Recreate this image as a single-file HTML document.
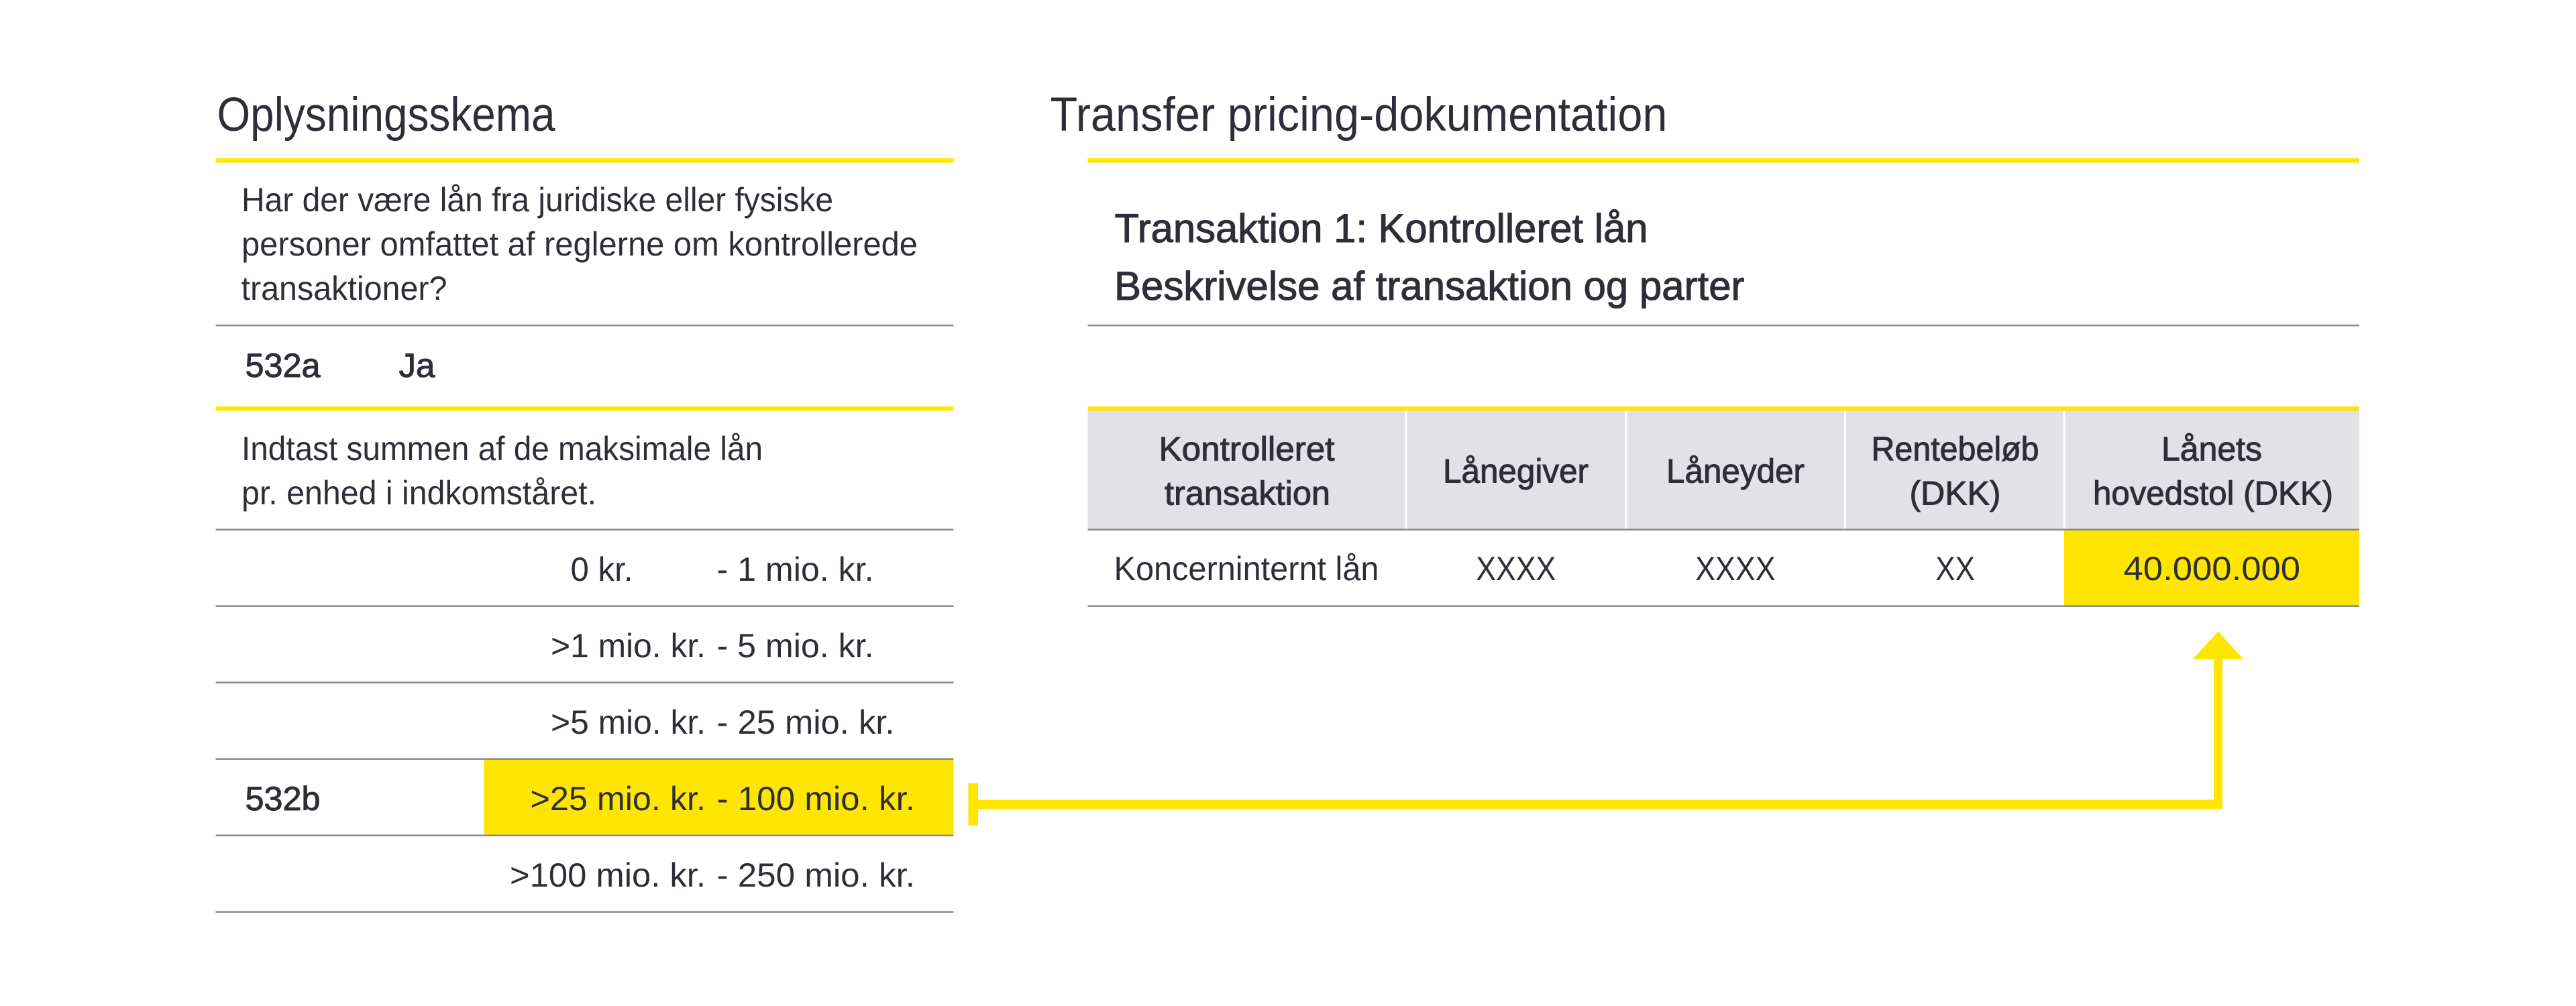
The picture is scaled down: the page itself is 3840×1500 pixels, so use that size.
<!DOCTYPE html>
<html lang="da">
<head>
<meta charset="utf-8">
<title>Oplysningsskema og Transfer pricing-dokumentation</title>
<style>
html,body{margin:0;padding:0;background:#fff}
svg{display:block}
text{font-family:"Liberation Sans",sans-serif;fill:#2e2e38}
.h{font-size:71px}
.b{font-size:50px}
.m{font-size:50px;stroke:#2e2e38;stroke-width:1px}
.t{font-size:60px;stroke:#2e2e38;stroke-width:1.1px}
</style>
</head>
<body>
<svg width="3840" height="1500" viewBox="0 0 3840 1500" xmlns="http://www.w3.org/2000/svg">
<rect width="3840" height="1500" fill="#fff"/>

<!-- fills -->
<rect x="721.5" y="1131" width="700" height="114" fill="#ffe600"/>
<rect x="1621.5" y="612" width="1895.5" height="177" fill="#e1e1e6"/>
<rect x="3077" y="789" width="440" height="114" fill="#ffe600"/>
<rect x="2094.5" y="612" width="3" height="177" fill="#fff"/>
<rect x="2422.5" y="612" width="3" height="177" fill="#fff"/>
<rect x="2749" y="612" width="3" height="177" fill="#fff"/>
<rect x="3075.5" y="612" width="3" height="177" fill="#fff"/>

<!-- left rules -->
<rect x="321.5" y="236" width="1100" height="6.5" fill="#ffe600"/>
<rect x="321.5" y="606" width="1100" height="6.3" fill="#ffe600"/>
<g fill="#85858f">
<rect x="321.5" y="484" width="1100" height="2.4"/>
<rect x="321.5" y="788.5" width="1100" height="2.4"/>
<rect x="321.5" y="902.5" width="1100" height="2.4"/>
<rect x="321.5" y="1016.5" width="1100" height="2.4"/>
<rect x="321.5" y="1130.5" width="1100" height="2.4"/>
<rect x="321.5" y="1244.5" width="1100" height="2.4"/>
<rect x="321.5" y="1358.5" width="1100" height="2.4"/>
</g>

<!-- right rules -->
<rect x="1621.5" y="236" width="1895.5" height="6.5" fill="#ffe600"/>
<rect x="1621.5" y="606" width="1895.5" height="6.3" fill="#ffe600"/>
<g fill="#85858f">
<rect x="1621.5" y="484" width="1895.5" height="2.4"/>
<rect x="1621.5" y="788.5" width="1895.5" height="2.4"/>
<rect x="1621.5" y="902.5" width="1895.5" height="2.4"/>
</g>

<!-- connector -->
<g fill="#ffe600">
<rect x="1443.5" y="1167.5" width="14.5" height="63.5"/>
<rect x="1458" y="1192.5" width="1855" height="14"/>
<rect x="3300" y="982" width="13" height="224.5"/>
<polygon points="3306.5,941.5 3344.5,983 3268.5,983"/>
</g>

<!-- headings -->
<text class="h" x="323.5" y="195" textLength="504" lengthAdjust="spacingAndGlyphs">Oplysningsskema</text>
<text class="h" x="1565.5" y="195" textLength="920" lengthAdjust="spacingAndGlyphs">Transfer pricing-dokumentation</text>

<!-- left text -->
<text class="b" x="360" y="315" textLength="882" lengthAdjust="spacingAndGlyphs">Har der være lån fra juridiske eller fysiske</text>
<text class="b" x="360" y="381" textLength="1008" lengthAdjust="spacingAndGlyphs">personer omfattet af reglerne om kontrollerede</text>
<text class="b" x="359.5" y="447" textLength="307" lengthAdjust="spacingAndGlyphs">transaktioner?</text>
<text class="m" x="365.5" y="562" textLength="112" lengthAdjust="spacingAndGlyphs">532a</text>
<text class="m" x="594.5" y="562" textLength="54" lengthAdjust="spacingAndGlyphs">Ja</text>
<text class="b" x="360" y="686" textLength="777" lengthAdjust="spacingAndGlyphs">Indtast summen af de maksimale lån</text>
<text class="b" x="360" y="752" textLength="529" lengthAdjust="spacingAndGlyphs">pr. enhed i indkomståret.</text>

<text class="b" x="850.5" y="866" textLength="93" lengthAdjust="spacingAndGlyphs">0 kr.</text>
<text class="b" x="1068.5" y="866" textLength="234" lengthAdjust="spacingAndGlyphs">- 1 mio. kr.</text>
<text class="b" x="821" y="980" textLength="231" lengthAdjust="spacingAndGlyphs">&gt;1 mio. kr.</text>
<text class="b" x="1068.5" y="980" textLength="234" lengthAdjust="spacingAndGlyphs">- 5 mio. kr.</text>
<text class="b" x="821" y="1094" textLength="231" lengthAdjust="spacingAndGlyphs">&gt;5 mio. kr.</text>
<text class="b" x="1068.5" y="1094" textLength="265" lengthAdjust="spacingAndGlyphs">- 25 mio. kr.</text>
<text class="m" x="365.5" y="1208" textLength="112" lengthAdjust="spacingAndGlyphs">532b</text>
<text class="b" x="790.5" y="1208" textLength="261.5" lengthAdjust="spacingAndGlyphs">&gt;25 mio. kr.</text>
<text class="b" x="1068.5" y="1208" textLength="295.5" lengthAdjust="spacingAndGlyphs">- 100 mio. kr.</text>
<text class="b" x="760" y="1322" textLength="292" lengthAdjust="spacingAndGlyphs">&gt;100 mio. kr.</text>
<text class="b" x="1068.5" y="1322" textLength="295.5" lengthAdjust="spacingAndGlyphs">- 250 mio. kr.</text>

<!-- right text -->
<text class="t" x="1661.5" y="361" textLength="795" lengthAdjust="spacingAndGlyphs">Transaktion 1: Kontrolleret lån</text>
<text class="t" x="1661" y="447" textLength="939.5" lengthAdjust="spacingAndGlyphs">Beskrivelse af transaktion og parter</text>

<text class="m" x="1727.5" y="686.5" textLength="262" lengthAdjust="spacingAndGlyphs">Kontrolleret</text>
<text class="m" x="1736" y="752.5" textLength="247" lengthAdjust="spacingAndGlyphs">transaktion</text>
<text class="m" x="2151" y="719.5" textLength="217" lengthAdjust="spacingAndGlyphs">Lånegiver</text>
<text class="m" x="2484" y="719.5" textLength="206" lengthAdjust="spacingAndGlyphs">Låneyder</text>
<text class="m" x="2789.5" y="686.5" textLength="250" lengthAdjust="spacingAndGlyphs">Rentebeløb</text>
<text class="m" x="2846.5" y="752.5" textLength="136" lengthAdjust="spacingAndGlyphs">(DKK)</text>
<text class="m" x="3222" y="686.5" textLength="150" lengthAdjust="spacingAndGlyphs">Lånets</text>
<text class="m" x="3120" y="752.5" textLength="358" lengthAdjust="spacingAndGlyphs">hovedstol (DKK)</text>

<text class="b" x="1660.5" y="865" textLength="395" lengthAdjust="spacingAndGlyphs">Koncerninternt lån</text>
<text class="b" x="2200.3" y="865" textLength="119" lengthAdjust="spacingAndGlyphs">XXXX</text>
<text class="b" x="2527.2" y="865" textLength="119.4" lengthAdjust="spacingAndGlyphs">XXXX</text>
<text class="b" x="2885.3" y="865" textLength="58.6" lengthAdjust="spacingAndGlyphs">XX</text>
<text class="b" x="3165.5" y="865" textLength="263.6" lengthAdjust="spacingAndGlyphs">40.000.000</text>
</svg>
</body>
</html>
